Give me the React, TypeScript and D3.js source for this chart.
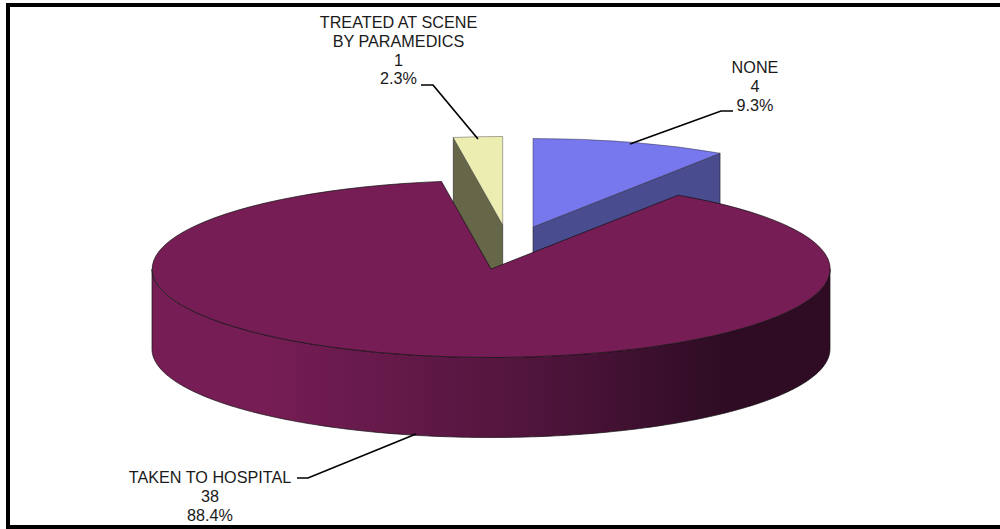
import { useMemo } from "react";
import * as d3 from "d3";

const categories = ["NONE", "TAKEN TO HOSPITAL", "TREATED AT SCENE"];
const counts = [4, 38, 1];
const percents = ["9.3%", "88.4%", "2.3%"];

const topColors = ["#7777ee", "#761d55", "#ecedb0"];
const sideColors = ["#4a4c90", "#2f0c24", "#666649"];

const width = 1000;
const height = 529;
const cx = 491;
const cy = 269;
const rx = 339;
const ry = 88.5;
const depth = 80;

// how far each slice is pulled out of the pie
const offsets = [
  { dx: 42, dy: -42 },
  { dx: 0, dy: 0 },
  { dx: 11.7, dy: -44 },
];

const labelLines = [
  [categories[0], String(counts[0]), percents[0]],
  [categories[1], String(counts[1]), percents[1]],
  [categories[2], "BY PARAMEDICS", String(counts[2]), percents[2]],
];
const labelX = [755, 210, 398.5];
const labelY = [73, 483, 28];

const leaders = [
  [[733, 111], [721, 111], [630, 144]],
  [[297, 478], [308, 478], [416, 434]],
  [[421, 85], [433, 85], [478, 139]],
];

const px = (a: number) => rx * Math.sin(a);
const py = (a: number) => -ry * Math.cos(a);

const App = () => {
  const slices = useMemo(() => d3.pie<number>().sort(null)(counts), []);

  const unitArc = d3
    .arc<d3.PieArcDatum<number>>()
    .innerRadius(0)
    .outerRadius(1);

  const line = d3.line<number[]>();

  // flat face left by the cut of a pulled out slice
  const cutFace = (a: number) =>
    line([
      [0, 0],
      [px(a), py(a)],
      [px(a), py(a) + depth],
      [0, depth],
    ]) + "Z";

  // front wall of the big slice
  const wallAngles = d3.range(0, 181).map((d) => Math.PI / 2 + (d / 180) * Math.PI);
  const wallPath =
    line([
      ...wallAngles.map((a) => [px(a), py(a)]),
      ...wallAngles
        .slice()
        .reverse()
        .map((a) => [px(a), py(a) + depth]),
    ]) + "Z";

  const big = slices[1];
  const none = slices[0];
  const treated = slices[2];

  return (
    <svg
      width={width}
      height={height}
      style={{ position: "absolute", left: 0, top: 0, background: "#fff" }}
    >
      <defs>
        <linearGradient
          id="wall"
          gradientUnits="userSpaceOnUse"
          x1={-rx}
          x2={rx}
          y1={0}
          y2={0}
        >
          <stop offset="0" stopColor="#761d55" />
          <stop offset="0.16" stopColor="#761d55" />
          <stop offset="0.41" stopColor="#5f1846" />
          <stop offset="0.62" stopColor="#4a1338" />
          <stop offset="0.84" stopColor="#2f0c24" />
          <stop offset="1" stopColor="#2f0c24" />
        </linearGradient>
      </defs>

      {/* frame runs off the right edge of the picture */}
      <path
        d={line([
          [width + 4, 5],
          [8, 5],
          [8, 527],
          [width + 4, 527],
        ]) as string}
        fill="none"
        stroke="#000"
        strokeWidth={4}
      />

      <g transform={`translate(${cx + offsets[2].dx},${cy + offsets[2].dy})`}>
        <path
          d={cutFace(treated.startAngle)}
          fill={sideColors[2]}
          stroke="#222"
          strokeWidth={0.6}
        />
        <path
          d={unitArc(treated) as string}
          transform={`scale(${rx},${ry})`}
          fill={topColors[2]}
          stroke="#555"
          strokeWidth={0.5}
          vectorEffect="non-scaling-stroke"
        />
      </g>

      <g transform={`translate(${cx + offsets[0].dx},${cy + offsets[0].dy})`}>
        <path
          d={cutFace(none.endAngle)}
          fill={sideColors[0]}
          stroke="#222"
          strokeWidth={0.6}
        />
        <path
          d={unitArc(none) as string}
          transform={`scale(${rx},${ry})`}
          fill={topColors[0]}
          stroke="#334"
          strokeWidth={0.5}
          vectorEffect="non-scaling-stroke"
        />
      </g>

      <g transform={`translate(${cx},${cy})`}>
        <path d={wallPath} fill="url(#wall)" stroke="#111" strokeWidth={0.7} />
        <path
          d={unitArc(big) as string}
          transform={`scale(${rx},${ry})`}
          fill={topColors[1]}
          stroke="#111"
          strokeWidth={0.7}
          vectorEffect="non-scaling-stroke"
        />
      </g>

      {leaders.map((pts, i) => (
        <path
          key={i}
          d={line(pts as [number, number][]) as string}
          fill="none"
          stroke="#000"
          strokeWidth={1.7}
        />
      ))}

      {labelLines.map((lines, i) => (
        <text
          key={categories[i]}
          textAnchor="middle"
          fontFamily="'Liberation Sans', Arial, sans-serif"
          fontSize={16.2}
          fill="#1a1a1a"
        >
          {lines.map((t, j) => (
            <tspan key={j} x={labelX[i]} y={labelY[i] + j * 18.8}>
              {t}
            </tspan>
          ))}
        </text>
      ))}
    </svg>
  );
};

export default App;
